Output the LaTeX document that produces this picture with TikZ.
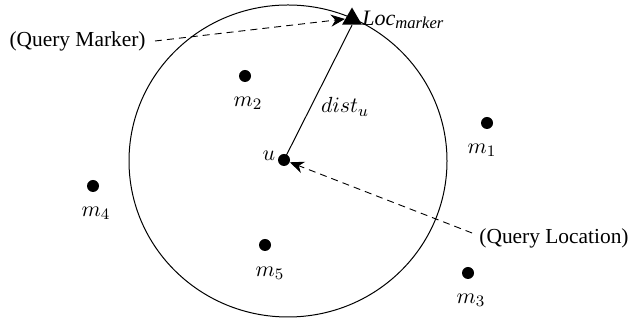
\documentclass[tikz,border=0pt]{standalone}
\usepackage{fontspec}
\setmainfont{Liberation Serif}
\usetikzlibrary{arrows.meta,shapes.geometric}
\begin{document}
\begin{tikzpicture}[x=0.5pt,y=-0.5pt,
  dot/.style={circle,fill=black,inner sep=0pt,minimum size=6pt},
  lbl/.style={inner sep=0pt,font=\rmfamily\fontsize{11.4}{13}\selectfont},
  txt/.style={inner sep=0pt,font=\rmfamily\fontsize{10.7}{12}\selectfont},
  marker/.style={regular polygon,regular polygon sides=3,fill=black,inner sep=0pt,minimum size=11.5pt},
  pointer/.style={dash pattern=on 3.5pt off 2.5pt,line width=0.45pt,-{Stealth[length=7pt,width=6pt]}},
  radius line/.style={line width=0.5pt}]
\useasboundingbox (0,0) rectangle (631,324);
\draw[line width=0.5pt] (288,161) ellipse [x radius=159, y radius=156];
\node[marker] (loc) at (352,19) {};
\node[dot] (u) at (284,160) {};
\node[dot] (m1) at (487,123) {};
\node[dot] (m2) at (245,76) {};
\node[dot] (m3) at (468,273) {};
\node[dot] (m4) at (93,186) {};
\node[dot] (m5) at (265,245) {};
\node[lbl] (lu) at (269,156) {$u$};
\node[lbl] (l1) at (482,150) {$m_1$};
\node[lbl] (l2) at (248,103) {$m_2$};
\node[lbl] (l3) at (471,300) {$m_3$};
\node[lbl] (l4) at (96,213) {$m_4$};
\node[lbl] (l5) at (270,273) {$m_5$};
\node[lbl] (dist) at (345,107) {$dist_u$};
\node[txt,anchor=west,font=\rmfamily\fontsize{11}{13}\selectfont] (lloc) at (362,20) {\itshape Loc\raisebox{-0.35ex}{\fontsize{8.3}{10}\selectfont marker}};
\node[txt,anchor=east] (qm) at (146,41) {(Query Marker)};
\node[txt,anchor=east] (ql) at (629,238) {(Query Location)};
\draw[radius line] (u.center) -- (loc.south);
\draw[pointer] (qm.east) ++(9,0) coordinate (qms) -- (loc.west);
\draw[pointer] (ql.west) ++(-7,-5) coordinate (qls) -- (u);
\end{tikzpicture}
\end{document}
